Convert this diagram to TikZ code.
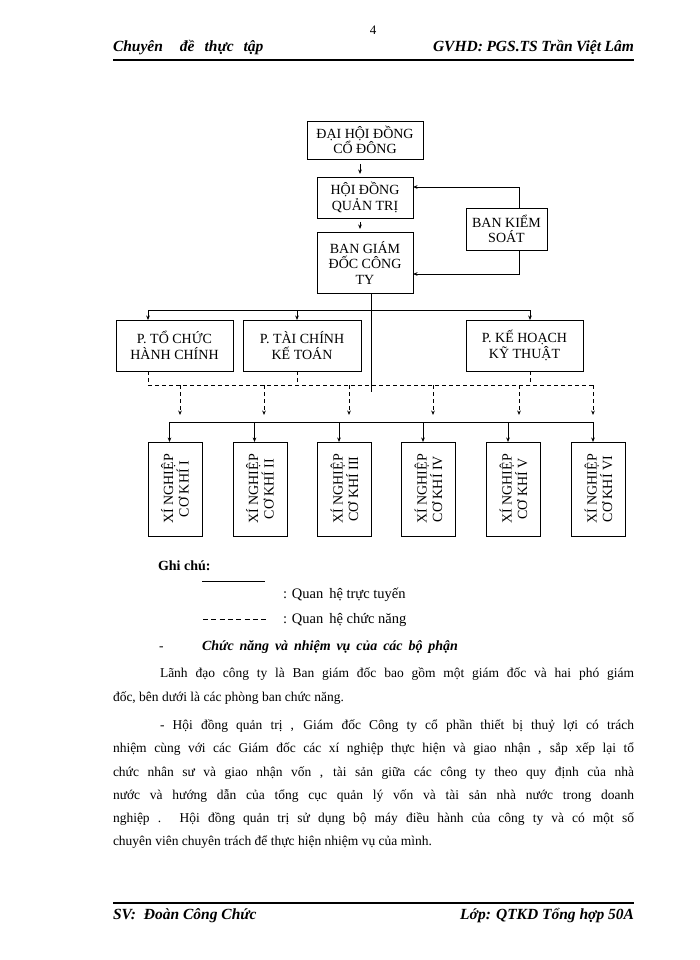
\documentclass[tikz,border=0pt]{standalone}
\usepackage{fontspec}
\setmainfont{Liberation Serif}
\usetikzlibrary{arrows.meta,positioning}

\begin{document}
\begin{tikzpicture}[x=1pt, y=-1pt, >={Stealth[length=4.5pt,width=3.6pt]}, line width=0.8pt,
    every node/.style={inner sep=0pt, outer sep=0pt},
    orgbox/.style={draw, line width=0.8pt, align=center, font=\fontsize{14}{15.5}\selectfont},
    xnbox/.style={draw, line width=0.8pt, minimum width=54pt, minimum height=94pt},
    fnlink/.style={dash pattern=on 4pt off 3pt},
    bodyline/.style={anchor=base west, font=\fontsize{13.5}{15}\selectfont},
    headtext/.style={font=\fontsize{15.5}{17}\selectfont\bfseries\itshape}]
    \fill[white] (0,0) rectangle (700,960);
    \useasboundingbox (0,0) rectangle (700,960);
    % page head
    \node[font=\fontsize{13}{15}\selectfont] (pageno) at (373,30) {4};
    \node[headtext, anchor=base west] (headL) at (113,52) {Chuyên\hspace{17pt}đề\hspace{10pt}thực\hspace{10pt}tập};
    \node[headtext, anchor=base east] (headR) at (634,52) {\makebox[201pt][s]{GVHD: PGS.TS Trần Việt Lâm}};
    \coordinate (hlL) at (113,60);
    \coordinate (hlR) at (634,60);
    \draw[line width=1.6pt] (hlL) -- (hlR);
    % upper boxes
    \node[orgbox, minimum width=116pt, minimum height=38pt] (dhcd) at (365,140) {ĐẠI HỘI ĐỒNG\\CỔ ĐÔNG};
    \node[orgbox, minimum width=96pt, minimum height=41pt] (hdqt) at (365,197.5) {HỘI ĐỒNG\\QUẢN TRỊ};
    \node[orgbox, minimum width=96pt, minimum height=61pt] (bgd) at (365,262.5) {BAN GIÁM\\ĐỐC CÔNG\\TY};
    \node[orgbox, minimum width=81pt, minimum height=42pt] (bks) at (506.5,229) {BAN KIỂM\\SOÁT};
    \draw[->, shorten <=5pt, shorten >=3pt] ([xshift=-5pt]dhcd.south) -- ([xshift=-5pt]hdqt.north);
    \draw[->, shorten <=4pt, shorten >=3pt] ([xshift=-5pt]hdqt.south) -- ([xshift=-5pt]bgd.north);
    \draw[->] ([xshift=12.5pt]bks.north) |- ([yshift=10.5pt]hdqt.east);
    \draw[->] ([xshift=12.5pt]bks.south) |- ([yshift=-11.5pt]bgd.east);
    % phong ban
    \node[orgbox, minimum width=117pt, minimum height=51pt] (ptchc) at (174.5,345.5) {P. TỔ CHỨC\\HÀNH CHÍNH};
    \node[orgbox, minimum width=118pt, minimum height=51pt] (ptckt) at (302,345.5) {P. TÀI CHÍNH\\KẾ TOÁN};
    \node[orgbox, minimum width=117pt, minimum height=51pt] (pkhkt) at (524.5,345.5) {P. KẾ HOẠCH\\KỸ THUẬT};
    \coordinate (trunkEnd) at (371,392);
    \draw ([xshift=6pt]bgd.south) -- (trunkEnd);
    \coordinate (sL) at (148,310);
    \coordinate (sR) at (530,310);
    \draw (sL) -- (sR);
    \coordinate (ptchcT) at ([xshift=-26.5pt]ptchc.north);
    \coordinate (ptcktT) at ([xshift=-5pt]ptckt.north);
    \coordinate (pkhktT) at ([xshift=5.5pt]pkhkt.north);
    \foreach \p in {ptchcT,ptcktT,pkhktT} \draw[->] (\p |- sL) -- (\p);
    % chuc nang
    \coordinate (fL) at (148,385);
    \coordinate (fR) at (593,385);
    \draw[fnlink] (fL) -- (fR);
    \coordinate (ptchcB) at ([xshift=-26.5pt]ptchc.south);
    \coordinate (ptcktB) at ([xshift=-5pt]ptckt.south);
    \coordinate (pkhktB) at ([xshift=5.5pt]pkhkt.south);
    \foreach \p in {ptchcB,ptcktB,pkhktB} \draw[fnlink] (\p) -- (\p |- fL);
    \foreach \dx [count=\i] in {180,264,349,433,519,593} {
        \coordinate (fa\i) at (\dx,385);
        \coordinate (fb\i) at (\dx,415);
        \draw[fnlink, ->] (fa\i) -- (fb\i);
    }
    % xi nghiep
    \coordinate (xbL) at (169,422);
    \coordinate (xbR) at (593,422);
    \draw (xbL) -- (xbR);
    \foreach \cx/\nm [count=\i] in {175/I,260/II,344.5/III,428.5/IV,513.5/V,598.5/VI} {
        \node[xnbox] (xn\i) at (\cx,489) {};
        \node[rotate=90, align=center, font=\fontsize{14}{15.5}\selectfont] (xnt\i) at (xn\i) {XÍ NGHIỆP\\CƠ KHÍ \nm};
        \coordinate (xa\i) at ([xshift=-5.5pt]xn\i.north);
        \draw[->] (xa\i |- xbL) -- (xa\i);
    }
    % chu thich
    \node[anchor=base west, font=\fontsize{14}{16}\selectfont\bfseries] (ghichu) at (158,570) {Ghi chú:};
    \coordinate (lgA1) at (202,581);
    \coordinate (lgA2) at (265,581);
    \draw (lgA1) -- (lgA2);
    \node[bodyline, font=\fontsize{14.5}{16}\selectfont] (lgt1) at (283,598.5) {: Quan\hspace{6pt}hệ trực tuyến};
    \coordinate (lgB1) at (203,619);
    \coordinate (lgB2) at (266,619);
    \draw[dash pattern=on 5pt off 3.3pt] (lgB1) -- (lgB2);
    \node[bodyline, font=\fontsize{14.5}{16}\selectfont] (lgt2) at (283,623.5) {: Quan\hspace{6pt}hệ chức năng};
    % van ban
    \node[bodyline] (dash0) at (159,650) {-};
    \node[bodyline, font=\fontsize{14}{16}\selectfont\bfseries\itshape] (tieude) at (202,650) {\makebox[256pt][s]{Chức năng và nhiệm vụ của các bộ phận}};
    \node[bodyline] (l1) at (160,677.5) {\makebox[474pt][s]{Lãnh đạo công ty là Ban giám đốc bao gồm một giám đốc và hai phó giám}};
    \node[bodyline] (l2) at (113,701.5) {đốc, bên dưới là các phòng ban chức năng.};
    \node[bodyline] (l3) at (160,729.5) {\makebox[474pt][s]{- Hội đồng quản trị , Giám đốc Công ty cổ phần thiết bị thuỷ lợi có trách}};
    \node[bodyline] (l4) at (113,752.5) {\makebox[521pt][s]{nhiệm cùng với các Giám đốc các xí nghiệp thực hiện và giao nhận , sắp xếp lại tổ}};
    \node[bodyline] (l5) at (113,776.5) {\makebox[521pt][s]{chức nhân sư và giao nhận vốn , tài sản giữa các công ty theo quy định của nhà}};
    \node[bodyline] (l6) at (113,799.5) {\makebox[521pt][s]{nước và hướng dẫn của tổng cục quản lý vốn và tài sản nhà nước trong doanh}};
    \node[bodyline] (l7) at (113,822.5) {\makebox[521pt][s]{nghiệp . Hội đồng quản trị sử dụng bộ máy điều hành của công ty và có một số}};
    \node[bodyline] (l8) at (113,845.5) {chuyên viên chuyên trách để thực hiện nhiệm vụ của mình.};
    % page foot
    \coordinate (flL) at (113,903);
    \coordinate (flR) at (634,903);
    \draw[line width=1.2pt] (flL) -- (flR);
    \node[headtext, anchor=base west] (footL) at (113,919) {SV:\hspace{8pt}Đoàn Công Chức};
    \node[headtext, anchor=base east] (footR) at (634,919) {Lớp: QTKD Tổng hợp 50A};
\end{tikzpicture}
\end{document}
